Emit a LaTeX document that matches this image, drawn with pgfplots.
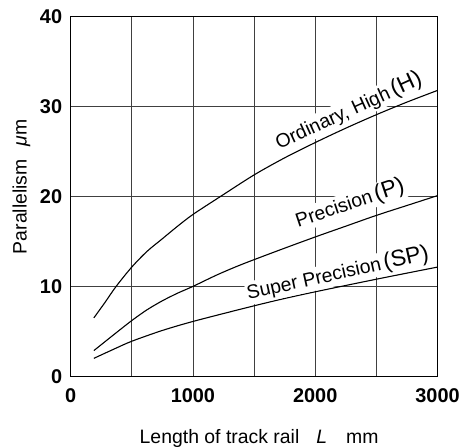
\documentclass[border=0pt]{standalone}
\usepackage{pgfplots}
\pgfplotsset{compat=1.18}
\usepackage{fontspec}
\setmainfont{Liberation Sans}
\newcommand{\bigp}[1]{{\fontsize{23}{23}\selectfont(#1)}}
\begin{document}
\begin{tikzpicture}
\begin{axis}[
  scale only axis, width=367.3bp, height=360bp,
  xmin=0, xmax=3000, ymin=0, ymax=40,
  xtick={0,500,...,3000}, xticklabels={0,,1000,,2000,,3000},
  ytick={0,10,...,40},
  major tick length=0pt,
  grid=major, grid style={line width=0.8bp, black!75},
  axis line style={line width=1.3bp},
  tick label style={font=\bfseries\fontsize{20}{20}\selectfont},
  xticklabel style={yshift=-9bp},
  yticklabel style={xshift=-5bp},
  /pgf/number format/assume math mode=true,
  /pgf/number format/1000 sep={},
  xlabel={Length of track rail\hspace{17bp}\textit{L}\hspace{19bp}mm},
  ylabel={Parallelism\hspace{13bp}\textit{μ}m},
  label style={font=\fontsize{19.5}{19.5}\selectfont, inner sep=0pt},
  xlabel style={at={(axis description cs:0.5,0)}, anchor=base, yshift=-67.3bp, xshift=5bp},
  ylabel style={at={(axis description cs:0,0.5)}, anchor=base, yshift=44bp, xshift=9.7bp},
  clip=false,
]
\path ([xshift=-70.7bp,yshift=-71.3bp]rel axis cs:0,0) rectangle ([xshift=25bp,yshift=16.7bp]rel axis cs:1,1);
\addplot[black, line width=1.1bp, smooth] coordinates {
  (190,6.5) (280,8.2) (372,10) (500,12.15) (625,13.9) (750,15.3) (875,16.7) (1000,18.0)
  (1225,20) (1500,22.4) (1750,24.3) (2000,26.0) (2250,27.6) (2500,29.1) (2750,30.5) (3000,31.8)};
\addplot[black, line width=1.1bp, smooth] coordinates {
  (190,2.86) (350,4.6) (500,6.2) (625,7.4) (750,8.4) (875,9.25) (1000,10) (1200,11.3) (1400,12.45)
  (1700,14.0) (2000,15.5) (2250,16.7) (2500,17.9) (2750,19.0) (3000,20.1)};
\addplot[black, line width=1.1bp, smooth] coordinates {
  (190,2.0) (350,3.0) (500,3.9) (750,5.1) (1000,6.1) (1400,7.5) (1700,8.5) (2000,9.4)
  (2500,10.8) (3000,12.15)};
\node[fill=white, inner sep=1bp, rotate=24.5, font=\fontsize{19.5}{19.5}\selectfont]
  at (axis cs:2274,29.5) {Ordinary, High\hspace{3bp}\bigp{H}};
\node[fill=white, inner sep=1bp, rotate=18.5, font=\fontsize{19.5}{19.5}\selectfont]
  at (axis cs:2285,19.2) {Precision\hspace{3bp}\bigp{P}};
\node[fill=white, inner sep=1bp, rotate=12.5, font=\fontsize{19.5}{19.5}\selectfont]
  at (axis cs:2185,11.4) {Super Precision\hspace{3bp}\bigp{SP}};
\end{axis}
\end{tikzpicture}
\end{document}
